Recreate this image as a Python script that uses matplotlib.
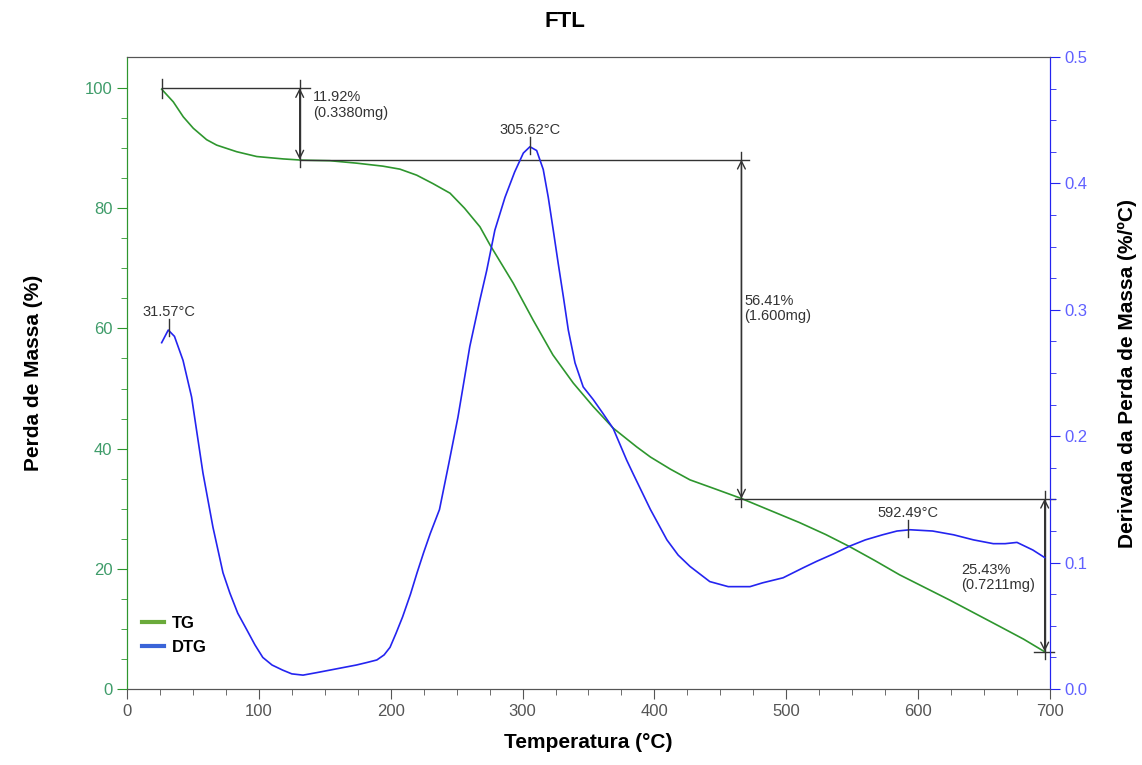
import numpy as np
import matplotlib.pyplot as plt
from matplotlib.lines import Line2D

plt.rcParams['font.family'] = ['Liberation Sans', 'DejaVu Sans']

# TG curve (mass %, left axis)
tg_temp = [26.3, 35.1, 42.7, 50.3, 60.4, 68, 83.2, 98.4, 118.5, 132.5, 154, 174, 194, 207,
           219.7, 232, 245, 256, 267.7, 275.3, 293, 308, 323, 338.5, 353.6, 368.8, 386.5,
           397, 412, 427, 446, 466, 488, 510, 530, 548, 567, 586, 605, 624, 643, 662, 680, 696]
tg_mass = [99.8, 97.7, 95.2, 93.3, 91.4, 90.5, 89.4, 88.6, 88.2, 88.0, 87.9, 87.5, 87.0, 86.5,
           85.5, 84.1, 82.5, 80.0, 76.9, 73.9, 67.5, 61.4, 55.6, 50.9, 47.0, 43.4, 40.3,
           38.6, 36.6, 34.8, 33.3, 31.7, 29.7, 27.7, 25.7, 23.7, 21.4, 19.0, 16.9, 14.8, 12.6,
           10.4, 8.3, 6.2]

# DTG curve (%/°C, right axis)
dtg_temp = [26.3, 31.3, 36, 42.5, 49, 57.6, 65.2, 72.8, 78, 84, 90.8, 97, 103, 110, 118,
            125, 133.5, 144, 154, 164, 174, 182, 189.5, 195, 199.5, 204, 209, 215, 220, 225,
            230, 237, 244, 251, 260, 267.7, 272.8, 279, 286.7, 294, 300.6, 305.6, 310.7,
            315.7, 319.5, 323.3, 327, 331, 334.7, 339.8, 346, 353.6, 361, 368.8, 379, 384,
            397, 409.5, 418, 427, 442, 456, 462.6, 472.5, 482, 497.6, 513, 523, 536, 548,
            560, 573, 584, 594, 611, 627, 642, 657, 666, 675, 687, 696]
dtg_val = [0.274, 0.284, 0.279, 0.260, 0.231, 0.171, 0.128, 0.092, 0.076, 0.060, 0.047,
           0.035, 0.025, 0.019, 0.015, 0.012, 0.011, 0.013, 0.015, 0.017, 0.019, 0.021,
           0.023, 0.027, 0.033, 0.044, 0.057, 0.075, 0.092, 0.108, 0.123, 0.142, 0.178,
           0.215, 0.271, 0.308, 0.331, 0.363, 0.389, 0.409, 0.424, 0.429, 0.426, 0.411,
           0.389, 0.363, 0.337, 0.310, 0.284, 0.258, 0.239, 0.229, 0.218, 0.206, 0.181,
           0.170, 0.142, 0.118, 0.106, 0.097, 0.085, 0.081, 0.081, 0.081, 0.084, 0.088,
           0.096, 0.101, 0.107, 0.113, 0.118, 0.122, 0.125, 0.126, 0.125, 0.122, 0.118,
           0.115, 0.115, 0.116, 0.110, 0.104]

# mass-loss steps: (x of arrow, top level, bottom level, text)
steps = [(131, 100.0, 88.08, '11.92%\n(0.3380mg)'),
         (466, 88.08, 31.67, '56.41%\n(1.600mg)'),
         (696, 31.67, 6.24, '25.43%\n(0.7211mg)')]

# DTG peaks
peak_temp = [31.57, 305.62, 592.49]
peak_val = [0.285, 0.429, 0.126]
peak_text = ['31.57°C', '305.62°C', '592.49°C']

green = '#2e962e'
blue = '#2424f0'
gray = '#555555'
dark = '#333333'

fig = plt.figure(figsize=(11.42, 7.65), dpi=100)
ax = fig.add_axes([0.1112, 0.0993, 0.8082, 0.8262])
ax2 = ax.twinx()

ax.plot(tg_temp, tg_mass, color=green, lw=1.2, zorder=3)
ax2.plot(dtg_temp, dtg_val, color=blue, lw=1.2, zorder=3)

ax.set_xlim(0, 700)
ax.set_ylim(0, 105.16)
ax2.set_ylim(0, 0.5)

ax.set_xticks(np.arange(0, 701, 100))
ax.set_xticks(np.arange(0, 701, 25), minor=True)
ax.set_yticks(np.arange(0, 101, 20))
ax.set_yticks(np.arange(0, 101, 5), minor=True)
ax2.set_yticks(np.arange(0, 0.51, 0.1))
ax2.set_yticks(np.arange(0, 0.51, 0.025), minor=True)
ax2.set_yticklabels(['0.0', '0.1', '0.2', '0.3', '0.4', '0.5'])

ax.tick_params(axis='x', which='both', direction='out', colors=gray, labelsize=12)
ax.tick_params(axis='x', which='major', length=7)
ax.tick_params(axis='x', which='minor', length=4)
ax.tick_params(axis='y', which='both', direction='out', color=green, labelcolor='#3f9c6a', labelsize=12)
ax.tick_params(axis='y', which='major', length=7)
ax.tick_params(axis='y', which='minor', length=4)
ax2.tick_params(axis='y', which='both', direction='out', color=blue, labelcolor='#6060ff', labelsize=12)
ax2.tick_params(axis='y', which='major', length=7)
ax2.tick_params(axis='y', which='minor', length=4)

for a in (ax, ax2):
    a.spines['top'].set_color(gray)
    a.spines['bottom'].set_color(gray)
    a.spines['left'].set_color(green)
    a.spines['right'].set_color(blue)

ax.set_xlabel('Temperatura (°C)', fontsize=15, fontweight='bold', labelpad=10)
ax.set_ylabel('Perda de Massa (%)', fontsize=15, fontweight='bold', labelpad=30)
ax2.set_ylabel('Derivada da Perda de Massa (%/ºC)', fontsize=15, fontweight='bold', labelpad=22)
fig.suptitle('FTL', x=0.495, y=0.985, fontsize=16, fontweight='bold')

# step annotations
line_end = [139, 472, 704]
h_start = [tg_temp[0], steps[0][0], steps[1][0] - 5]
for (x, top, bot, txt), x0, x1 in zip(steps, h_start, line_end):
    ax.plot([x0, x1], [top, top], color=dark, lw=1, zorder=4, clip_on=False)
    ax.plot([x, x], [top + 1.3, bot - 1.3], color=dark, lw=1, zorder=4, clip_on=False)
    ax.annotate('', xy=(x, bot), xytext=(x, top),
                arrowprops=dict(arrowstyle='<->', color=dark, lw=1, shrinkA=0, shrinkB=0,
                                mutation_scale=14), zorder=4)
ax.plot([tg_temp[0], tg_temp[0]], [98.3, 101.5], color=dark, lw=1, zorder=4)
ax.plot([steps[2][0] - 8, steps[2][0] + 7], [steps[2][2], steps[2][2]], color=dark, lw=1, zorder=4, clip_on=False)

ax.text(141, 99.6, steps[0][3], fontsize=10.5, color=dark, va='top', ha='left', linespacing=1.1)
ax.text(468, 65.8, steps[1][3], fontsize=10.5, color=dark, va='top', ha='left', linespacing=1.1)
ax.text(633, 21.0, steps[2][3], fontsize=10.5, color=dark, va='top', ha='left', linespacing=1.1)

for t, v, s in zip(peak_temp, peak_val, peak_text):
    ax2.plot([t, t], [v - 0.006, v + 0.008], color=dark, lw=1, zorder=4)
    ax2.text(t, v + 0.008, s, fontsize=10.5, color=dark, ha='center', va='bottom')

handles = [Line2D([], [], color='#6aaa3a', lw=3), Line2D([], [], color='#3a64d8', lw=3)]
leg = ax.legend(handles, ['TG', 'DTG'], loc='lower left', bbox_to_anchor=(0.0, 0.03),
                frameon=False, handlelength=1.3, handletextpad=0.5, labelspacing=0.55,
                prop={'weight': 'bold', 'size': 12})

fig.savefig('out.png', dpi=100)
